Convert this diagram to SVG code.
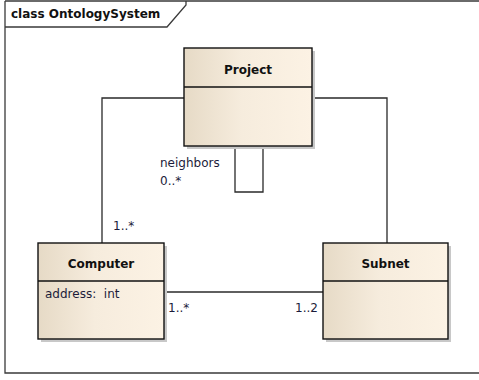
<svg xmlns="http://www.w3.org/2000/svg" width="479" height="380" viewBox="0 0 479 380">
<style>
.frame{fill:none;stroke:#3a3a3a;stroke-width:1.3}
.box{fill:url(#g);stroke:#111;stroke-width:1.4}
.shadow{fill:#c8c8c8}
.conn{fill:none;stroke:#2a2a2a;stroke-width:1.3}
.name{font-family:"DejaVu Sans",Verdana,sans-serif;font-weight:bold;font-size:12px;fill:#111;text-anchor:middle}
.lbl{font-family:"DejaVu Sans",Verdana,sans-serif;font-size:12px;fill:#1c1c3a;white-space:pre}
.title{font-family:"DejaVu Sans",Verdana,sans-serif;font-weight:bold;font-size:12px;fill:#111}
</style>
<defs>
<linearGradient id="g" x1="0" y1="0" x2="1" y2="0">
<stop offset="0" stop-color="#e6dac6"/>
<stop offset="0.45" stop-color="#f6ecdd"/>
<stop offset="1" stop-color="#fcf2e4"/>
</linearGradient>
</defs>
<rect width="479" height="380" fill="#fff"/>
<g id="frame">
<path class="frame" d="M5,1 H479 M5,1 V373 H479"/>
<path class="frame" d="M5,27 H167 L186,5 V1"/>
<text class="title" x="11" y="18">class OntologySystem</text>
</g>
<g id="connectors">
<path class="conn" d="M184,98 H102 V243"/>
<path class="conn" d="M312,98 H387 V243"/>
<path class="conn" d="M235,146 V192 H263 V146"/>
<path class="conn" d="M164,292 H323"/>
<text class="lbl" x="160" y="167">neighbors</text>
<text class="lbl" x="160" y="185">0..*</text>
<text class="lbl" x="113" y="230">1..*</text>
<text class="lbl" x="168" y="312">1..*</text>
<text class="lbl" x="318" y="312" text-anchor="end">1..2</text>
</g>
<g id="Project">
<rect class="shadow" x="187" y="51" width="128" height="98"/>
<rect class="box" x="184" y="48" width="128" height="98"/>
<line class="conn" x1="184" y1="87" x2="312" y2="87" style="stroke:#111"/>
<text class="name" x="248" y="74">Project</text>
</g>
<g id="Computer">
<rect class="shadow" x="41" y="246" width="126" height="96"/>
<rect class="box" x="38" y="243" width="126" height="96"/>
<line class="conn" x1="38" y1="281" x2="164" y2="281" style="stroke:#111"/>
<text class="name" x="101" y="268">Computer</text>
<text class="lbl" x="45" y="298" xml:space="preserve">address:  int</text>
</g>
<g id="Subnet">
<rect class="shadow" x="326" y="246" width="125" height="96"/>
<rect class="box" x="323" y="243" width="125" height="96"/>
<line class="conn" x1="323" y1="281" x2="448" y2="281" style="stroke:#111"/>
<text class="name" x="385.5" y="268">Subnet</text>
</g>
</svg>
